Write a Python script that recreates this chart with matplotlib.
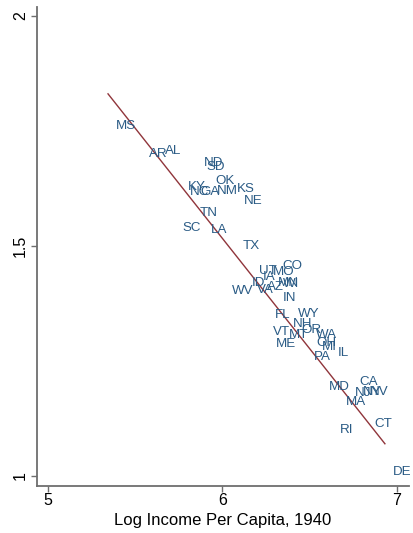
import numpy as np
import matplotlib
matplotlib.use("Agg")
import matplotlib.pyplot as plt

plt.rcParams['font.family'] = ['Liberation Sans', 'DejaVu Sans']

# state abbreviations, log income per capita 1940, outcome
states = ["MS", "AR", "AL", "ND", "SD", "OK", "KY", "NC", "GA", "NM", "KS", "NE",
          "TN", "SC", "LA", "TX", "UT", "MO", "CO", "IA", "ID", "AZ", "MN", "WI",
          "WV", "VA", "IN", "FL", "WY", "NH", "VT", "MT", "OR", "WA", "OH", "MI",
          "ME", "PA", "IL", "MD", "CA", "NJ", "NY", "NV", "MA", "CT", "RI", "DE"]
log_income = [5.344, 5.533, 5.625, 5.848, 5.865, 5.911, 5.756, 5.768, 5.825, 5.922,
              6.037, 6.077, 5.825, 5.722, 5.888, 6.071, 6.163, 6.243, 6.295, 6.186,
              6.123, 6.209, 6.272, 6.301, 6.008, 6.152, 6.301, 6.255, 6.386, 6.358,
              6.243, 6.335, 6.409, 6.490, 6.490, 6.524, 6.260, 6.478, 6.616, 6.564,
              6.736, 6.713, 6.759, 6.799, 6.662, 6.822, 6.627, 6.931]
outcome = [1.761, 1.700, 1.707, 1.680, 1.672, 1.641, 1.628, 1.617, 1.617, 1.620,
           1.624, 1.598, 1.572, 1.539, 1.535, 1.500, 1.446, 1.443, 1.457, 1.433,
           1.420, 1.411, 1.420, 1.417, 1.402, 1.404, 1.387, 1.350, 1.352, 1.330,
           1.313, 1.307, 1.317, 1.307, 1.289, 1.280, 1.287, 1.259, 1.267, 1.193,
           1.204, 1.180, 1.183, 1.183, 1.161, 1.113, 1.100, 1.009]

label_color = "#2a5b85"
line_color = "#90353b"
axis_color = "#6e6e6e"

fig = plt.figure(figsize=(4.14, 5.33), dpi=100)
ax = fig.add_axes([37 / 414, 1 - 486 / 533, 372 / 414, 479 / 533])

for s, xv, yv in zip(states, log_income, outcome):
    ax.annotate(s, (xv, yv), xytext=(8, 0), textcoords="offset pixels",
                ha="left", va="center", fontsize=9.6, color=label_color)

# linear fit over the data range
b, a = np.polyfit(log_income, outcome, 1)
xf = np.array([min(log_income), max(log_income)])
ax.plot(xf, a + b * xf, color=line_color, lw=1.0)

ax.set_xlim(4.937, 7.069)
ax.set_ylim(0.978, 2.0196)
ax.set_xticks([5, 6, 7])
ax.set_yticks([1, 1.5, 2])
ax.set_yticklabels(["1", "1.5", "2"], rotation=90, va="center")
ax.tick_params(axis="x", length=4, width=1, color=axis_color, labelsize=11.5, pad=1)
ax.tick_params(axis="y", length=4.5, width=1, color=axis_color, labelsize=11.5, pad=2)
ax.set_xlabel("Log Income Per Capita, 1940", fontsize=12, labelpad=4)

for side in ["top", "right"]:
    ax.spines[side].set_visible(False)
for side in ["left", "bottom"]:
    ax.spines[side].set_color(axis_color)
    ax.spines[side].set_linewidth(1.3)

fig.savefig("out.png", dpi=100)
